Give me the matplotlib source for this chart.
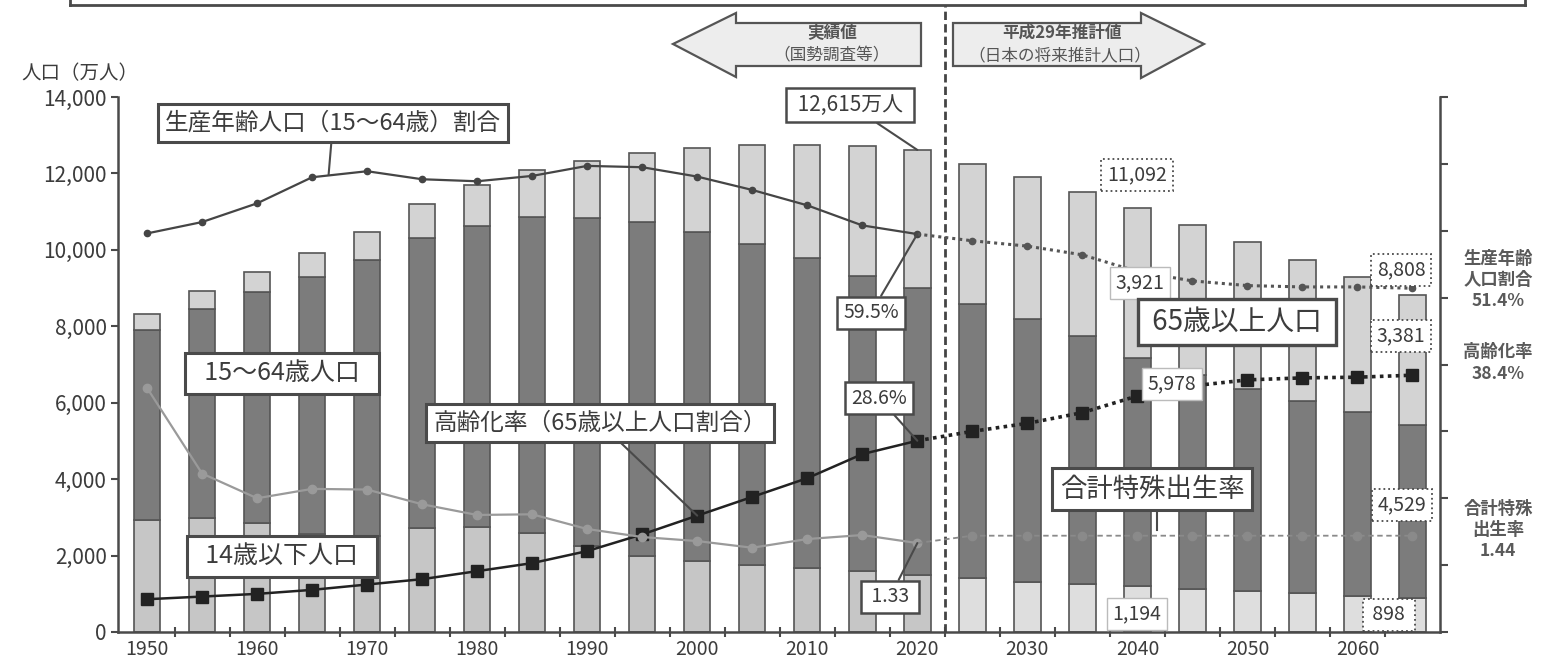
import matplotlib
matplotlib.use('Agg')
import matplotlib.pyplot as plt
from matplotlib.patches import Polygon
from matplotlib.lines import Line2D
import matplotlib.ticker as mticker
import numpy as np

plt.rcParams['font.family'] = ['Noto Sans CJK JP', 'DejaVu Sans']

# ---------------- data ----------------
years = [1950, 1955, 1960, 1965, 1970, 1975, 1980, 1985, 1990, 1995, 2000, 2005,
         2010, 2015, 2020, 2025, 2030, 2035, 2040, 2045, 2050, 2055, 2060, 2065]
pop_0_14 = [2943, 2980, 2843, 2553, 2515, 2722, 2751, 2603, 2249, 2001, 1847, 1752,
            1680, 1595, 1503, 1407, 1321, 1246, 1194, 1138, 1077, 1012, 951, 898]
pop_15_64 = [4966, 5473, 6047, 6744, 7212, 7581, 7883, 8251, 8590, 8716, 8622, 8409,
             8103, 7728, 7509, 7170, 6875, 6494, 5978, 5584, 5275, 5028, 4793, 4529]
pop_65 = [411, 475, 540, 624, 739, 887, 1065, 1247, 1489, 1826, 2204, 2576,
          2948, 3387, 3603, 3677, 3716, 3782, 3921, 3919, 3841, 3704, 3540, 3381]
working_ratio = [59.6, 61.3, 64.1, 68.0, 68.9, 67.7, 67.4, 68.2, 69.7, 69.5, 68.1, 66.1,
                 63.8, 60.8, 59.5, 58.5, 57.7, 56.4, 53.9, 52.5, 51.8, 51.6, 51.6, 51.4]
aging_rate = [4.9, 5.3, 5.7, 6.3, 7.1, 7.9, 9.1, 10.3, 12.1, 14.6, 17.4, 20.2,
              23.0, 26.6, 28.6, 30.0, 31.2, 32.8, 35.3, 36.8, 37.7, 38.0, 38.1, 38.4]
tfr = [3.65, 2.37, 2.00, 2.14, 2.13, 1.91, 1.75, 1.76, 1.54, 1.42, 1.36, 1.26,
       1.39, 1.45, 1.33, 1.44, 1.44, 1.44, 1.44, 1.44, 1.44, 1.44, 1.44, 1.44]
n_actual = 15  # 1950-2020 actual values, rest projections

decade_labels = [1950, 1960, 1970, 1980, 1990, 2000, 2010, 2020, 2030, 2040, 2050, 2060]

# ---------------- figure ----------------
W, H = 1545, 659
fig = plt.figure(figsize=(W / 100, H / 100), dpi=100)
fig.patch.set_facecolor('white')

TXT = '#3c3c3c'
EDGE = '#4a4a4a'

def fx(x):
    return x / W

def fy(y):
    return 1 - y / H

ax1 = fig.add_axes([fx(118), fy(632), fx(1440) - fx(118), fy(97) - fy(632)])
ax2 = ax1.twinx()
ax3 = ax1.twinx()

yrs = np.array(years)
b0 = np.array(pop_0_14)
b1 = np.array(pop_15_64)
b2 = np.array(pop_65)
bw = 2.4

col_young = ['#c6c6c6'] * n_actual + ['#dedede'] * (len(years) - n_actual)
ax1.bar(yrs, b0, width=bw, color=col_young, edgecolor='#555555', linewidth=1.2, zorder=2)
ax1.bar(yrs, b1, width=bw, bottom=b0, color='#7c7c7c', edgecolor='#555555', linewidth=1.2, zorder=2)
ax1.bar(yrs, b2, width=bw, bottom=b0 + b1, color='#d3d3d3', edgecolor='#555555', linewidth=1.2, zorder=2)

ax1.set_xlim(1947.36, 2067.5)
ax1.set_ylim(0, 14000)
ax1.set_yticks(np.arange(0, 14001, 2000))
ax1.yaxis.set_major_formatter(mticker.FuncFormatter(lambda v, p: f'{int(v):,}'))
ax1.set_xticks(decade_labels)
ax1.set_xticklabels([str(d) for d in decade_labels])
ax1.set_xticks(np.arange(1952.5, 2066, 5), minor=True)
ax1.tick_params(axis='x', which='major', length=0, pad=5, labelsize=14, labelcolor=TXT)
ax1.tick_params(axis='x', which='minor', length=7, width=1.5, direction='inout', color=EDGE)
ax1.tick_params(axis='y', which='major', length=5, width=1.5, direction='out', color=EDGE,
                labelsize=15, labelcolor=TXT, pad=3)
for s in ['top', 'right']:
    ax1.spines[s].set_visible(False)
for s in ['left', 'bottom']:
    ax1.spines[s].set_color(EDGE)
    ax1.spines[s].set_linewidth(1.8)

# right axis (percent, no labels)
ax2.set_ylim(0, 80)
ax2.set_yticks(np.arange(0, 81, 10))
ax2.set_yticklabels([])
ax2.tick_params(axis='y', length=6, width=1.5, direction='out', color=EDGE)
for s in ['top', 'left', 'bottom']:
    ax2.spines[s].set_visible(False)
ax2.spines['right'].set_color(EDGE)
ax2.spines['right'].set_linewidth(1.8)

ax3.set_ylim(0, 8)
ax3.axis('off')

proj_marks = list(range(1, len(years) - n_actual + 1))
# working-age ratio
ax2.plot(yrs[:n_actual], working_ratio[:n_actual], color='#454545', lw=1.6,
         marker='o', ms=4.5, zorder=5)
ax2.plot(yrs[n_actual - 1:], working_ratio[n_actual - 1:], color='#555555', lw=2.2,
         ls=(0, (1, 1.3)), marker='o', ms=4.5, markevery=proj_marks, zorder=5)
# aging rate
ax2.plot(yrs[:n_actual], aging_rate[:n_actual], color='#222222', lw=1.8,
         marker='s', ms=8, zorder=6)
ax2.plot(yrs[n_actual - 1:], aging_rate[n_actual - 1:], color='#222222', lw=2.6,
         ls=(0, (1, 1.2)), marker='s', ms=8, markevery=proj_marks, zorder=6)
# total fertility rate
ax3.plot(yrs[:n_actual], tfr[:n_actual], color='#9a9a9a', lw=1.6,
         marker='o', ms=6, zorder=4)
ax3.plot(yrs[n_actual - 1:], tfr[n_actual - 1:], color='#8a8a8a', lw=1.3,
         ls=(0, (3, 2)), marker='o', ms=6, markevery=proj_marks, zorder=4)

# boundary between actual and projected
ax1.axvline((years[n_actual - 1] + years[n_actual]) / 2, ymin=0, ymax=1.172, clip_on=False,
            color='#444444', lw=2, ls=(0, (3, 1.5)), zorder=7)

# ---------------- top decorations ----------------
fig.add_artist(Line2D([fx(70), fx(1525)], [fy(5), fy(5)], color=EDGE, lw=2))
fig.add_artist(Line2D([fx(70), fx(70)], [fy(5), 1.0], color=EDGE, lw=2))
fig.add_artist(Line2D([fx(1525), fx(1525)], [fy(5), 1.0], color=EDGE, lw=2))

left_arrow = [(673, 44), (736, 13), (736, 23), (921, 23), (921, 66), (736, 66), (736, 77)]
right_arrow = [(953, 23), (1141, 23), (1141, 13), (1204, 44), (1141, 78), (1141, 66), (953, 66)]
for pts in (left_arrow, right_arrow):
    fig.add_artist(Polygon([(fx(x), fy(y)) for x, y in pts], closed=True,
                           transform=fig.transFigure, facecolor='#ededed',
                           edgecolor='#555555', lw=1.6))
fig.text(fx(832), fy(33), '実績値', ha='center', va='center', fontsize=12, color='#555555', weight='bold')
fig.text(fx(832), fy(56), '（国勢調査等）', ha='center', va='center', fontsize=12, color='#555555')
fig.text(fx(1062), fy(33), '平成29年推計値', ha='center', va='center', fontsize=12, color='#555555', weight='bold')
fig.text(fx(1060), fy(56), '（日本の将来推計人口）', ha='center', va='center', fontsize=12, color='#555555')

fig.text(fx(80), fy(74), '人口（万人）', ha='center', va='center', fontsize=14, color=TXT)

# ---------------- annotation boxes ----------------
def box(text, cx, cy, fs, ec=EDGE, lw=1.8, ls='-', pad=0.3, xy=None, xycoords=None, color=TXT):
    bb = dict(boxstyle=f'square,pad={pad}', fc='white', ec=ec, lw=lw, ls=ls)
    if xy is None:
        fig.text(fx(cx), fy(cy), text, ha='center', va='center', fontsize=fs,
                 color=color, bbox=bb, zorder=10)
    else:
        ax3.annotate(text, xy=xy, xycoords=xycoords, xytext=(fx(cx), fy(cy)),
                     textcoords='figure fraction', ha='center', va='center', fontsize=fs,
                     color=color, bbox=bb, annotation_clip=False, zorder=10,
                     arrowprops=dict(arrowstyle='-', color=EDGE, lw=1.5, shrinkA=0, shrinkB=0))

i2020 = years.index(2020)
i2000 = years.index(2000)
i1965 = years.index(1965)
total_2020 = pop_0_14[i2020] + pop_15_64[i2020] + pop_65[i2020]

box('生産年齢人口（15～64歳）割合', 333, 123, 17, lw=2.2,
    xy=(years[i1965] + 1.5, working_ratio[i1965] + 0.4), xycoords=ax2.transData)
box('  15～64歳人口  ', 282, 373, 18, lw=2.2)
box('  14歳以下人口  ', 282, 556, 18, lw=2.2)
box('高齢化率（65歳以上人口割合）', 600, 423, 17, lw=2.2,
    xy=(years[i2000], aging_rate[i2000]), xycoords=ax2.transData)
box(f' {total_2020:,}万人 ', 850, 105, 15, lw=1.8,
    xy=(years[i2020], total_2020), xycoords=ax1.transData)
box(f'{working_ratio[i2020]}%', 871, 313, 14, lw=1.8,
    xy=(years[i2020], working_ratio[i2020]), xycoords=ax2.transData)
box(f'{aging_rate[i2020]}%', 879, 398, 14, lw=1.8,
    xy=(years[i2020], aging_rate[i2020]), xycoords=ax2.transData)
box(f' {tfr[i2020]} ', 890, 597, 14, lw=1.8,
    xy=(years[i2020], tfr[i2020]), xycoords=ax3.transData)

box('11,092', 1137, 175, 14, lw=1.3, ls=':')
box('3,921', 1140, 283, 14, ec='#bbbbbb', lw=1.0)
box(' 65歳以上人口 ', 1237, 322, 20, lw=2.4)
box('5,978', 1172, 384, 14, ec='#bbbbbb', lw=1.0)
box('合計特殊出生率', 1152, 489, 19, lw=2.2)
fig.add_artist(Line2D([fx(1157), fx(1157)], [fy(506), fy(530)], color=EDGE, lw=1.5, zorder=9))
box('1,194', 1137, 614, 14, ec='#bbbbbb', lw=1.0)

box('8,808', 1401, 270, 14, lw=1.3, ls=':')
box('3,381', 1401, 336, 14, lw=1.3, ls=':')
box('4,529', 1402, 505, 14, lw=1.3, ls=':')
box(' 898 ', 1389, 615, 14, lw=1.3, ls=':')

# right side labels
fig.text(fx(1498), fy(280), '生産年齢\n人口割合\n51.4%', ha='center', va='center', fontsize=12.5,
         color='#5a5a5a', weight='bold', linespacing=1.25)
fig.text(fx(1498), fy(363), '高齢化率\n38.4%', ha='center', va='center', fontsize=12.5,
         color='#5a5a5a', weight='bold', linespacing=1.25)
fig.text(fx(1498), fy(530), '合計特殊\n出生率\n1.44', ha='center', va='center', fontsize=12.5,
         color='#5a5a5a', weight='bold', linespacing=1.25)

fig.savefig('out.png', dpi=100, facecolor='white')
